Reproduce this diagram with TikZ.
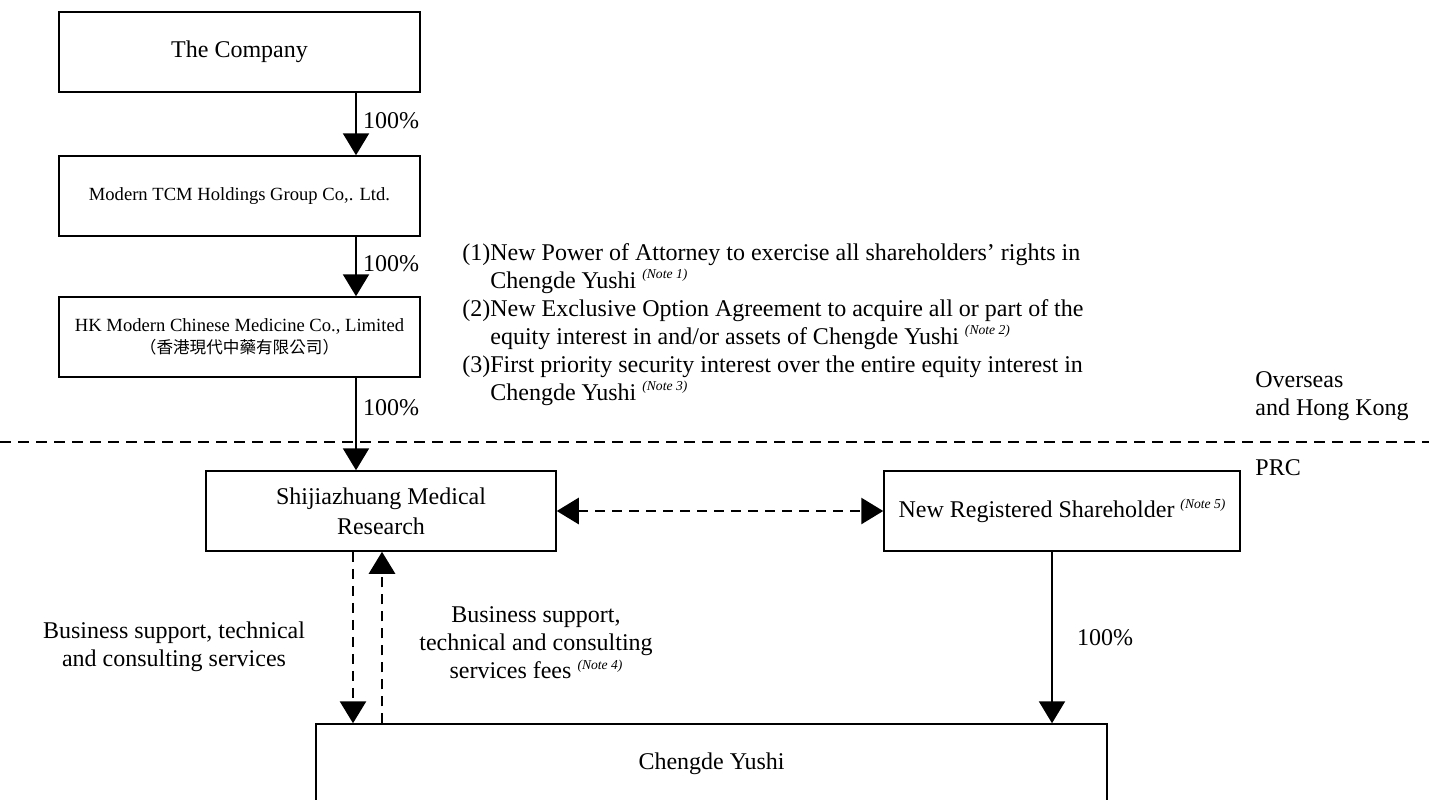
\documentclass[tikz,border=0pt]{standalone}
\usepackage{fontspec}
\setmainfont{Liberation Serif}
\newfontfamily\cjk{Noto Sans CJK TC}
\usetikzlibrary{arrows.meta}
\usetikzlibrary{calc}
\newcommand{\notemark}[1]{\raisebox{0.85ex}{\fontsize{6.8}{8}\selectfont\itshape (Note~#1)}}
\tikzset{
  big/.tip={Triangle[width=13pt,length=11pt]},
  entity/.style={draw,line width=0.75pt,inner sep=2pt,align=center,
    minimum height=40pt,font=\fontsize{12}{15}\selectfont},
  smallentity/.style={entity,font=\fontsize{9.3}{11}\selectfont},
  own/.style={line width=1.1pt,-big},
  service/.style={own,line width=1.4pt,dash pattern=on 5pt off 3.5pt},
  lbl/.style={inner sep=0pt,align=center,font=\fontsize{12}{14}\selectfont}
}

\begin{document}
\begin{tikzpicture}[x=0.5pt,y=-0.5pt]
    \useasboundingbox (0,0) rectangle (1429,799);
    \clip (0,0) rectangle (1429,799);
    % Border between regions
    \draw[line width=1.4pt,dash pattern=on 5.5pt off 3.5pt] (0,442) -- (1429,442);
    \node[lbl,align=left,anchor=west] (overseas) at (1255,396) {Overseas\\and Hong Kong};
    \node[lbl,anchor=west] (prc) at (1255,468) {PRC};
    % Boxes
    \node[entity,minimum width=180.5pt] (company) at (239.5,52) {The Company};
    \node[smallentity,minimum width=180.5pt] (tcm) at (239.5,196)
      {Modern TCM Holdings Group Co,. Ltd.};
    \node[smallentity,minimum width=180.5pt] (hkmcm) at (239.5,337)
      {HK Modern Chinese Medicine Co., Limited\\
       {\cjk\fontsize{8.3}{11}\selectfont （香港現代中藥有限公司）}};
    \node[entity,minimum width=175pt] (smr) at (381,511) {Shijiazhuang Medical\\Research};
    \node[entity,minimum width=178pt] (nrs) at (1062,511)
      {New Registered Shareholder \notemark{5}};
    \node[entity,minimum width=395.5pt] (cy) at (711.5,764) {Chengde Yushi};
    % Columns for the arrows
    \coordinate (spine) at (356,0);
    \coordinate (down) at (353,0);
    \coordinate (up) at (382,0);
    \coordinate (right) at (1052,0);
    % Ownership
    \draw[own] (company.south -| spine) -- (tcm.north -| spine)
      node[lbl,pos=0.45,right=3pt] {100\%};
    \draw[own] (tcm.south -| spine) -- (hkmcm.north -| spine)
      node[lbl,pos=0.45,right=3pt] {100\%};
    \draw[own] (hkmcm.south -| spine) -- (smr.north -| spine)
      node[lbl,pos=0.32,right=3pt] {100\%};
    \draw[own] (nrs.south -| right) -- (cy.north -| right)
      node[lbl,midway,right=12pt] {100\%};
    % Contracts
    \draw[service,big-big] (smr.east) -- (nrs.west);
    \draw[service] (smr.south -| down) -- (cy.north -| down);
    \draw[service] (cy.north -| up) -- (smr.south -| up);
    \node[lbl] (svc) at (174,647) {Business support, technical\\and consulting services};
    \node[lbl] (fees) at (536,643)
      {Business support,\\technical and consulting\\services fees \notemark{4}};
    \node[lbl,align=left,anchor=north west] (rights) at (462,243)
      {(1)New Power of Attorney to exercise all shareholders’ rights in\\
       \hphantom{(1)}Chengde Yushi \notemark{1}\\
       (2)New Exclusive Option Agreement to acquire all or part of the\\
       \hphantom{(2)}equity interest in and/or assets of Chengde Yushi \notemark{2}\\
       (3)First priority security interest over the entire equity interest in\\
       \hphantom{(3)}Chengde Yushi \notemark{3}};
\end{tikzpicture}
\end{document}
